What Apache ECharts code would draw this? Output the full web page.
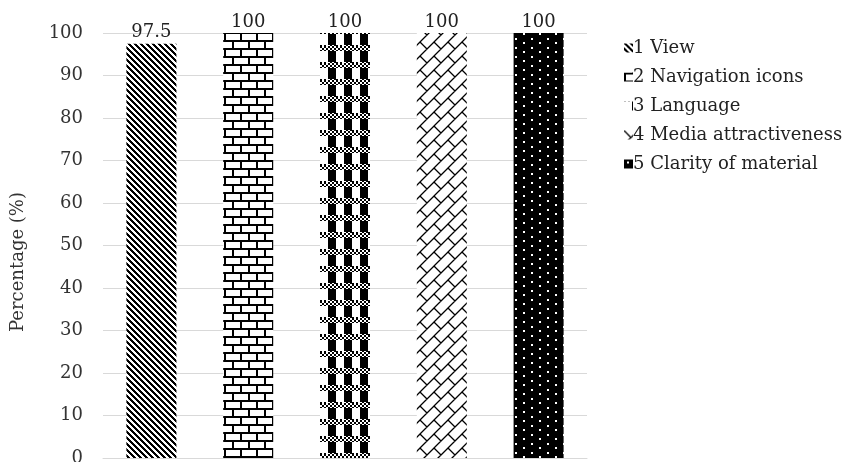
<!DOCTYPE html>
<html>
<head>
<meta charset="utf-8">
<script src="https://cdn.jsdelivr.net/npm/echarts@6/dist/echarts.min.js"></script>
<style>
  html, body { margin: 0; padding: 0; background: #fff; }
  #chart { width: 851px; height: 462px; }
</style>
</head>
<body>
<div id="chart"></div>
<script>
// Survey aspects and the share of positive responses for each
const categories = ['1 View', '2 Navigation icons', '3 Language', '4 Media attractiveness', '5 Clarity of material'];
const values = [97.5, 100, 100, 100, 100];
const yTicks = { min: 0, max: 100, interval: 10 };
const yAxisName = 'Percentage (%)';

const FONT = '"DejaVu Serif", "Liberation Serif", serif';

// --- monochrome fill patterns drawn on small tiles ---
function tile(w, h, draw, bg, fg) {
  const c = document.createElement('canvas');
  c.width = w; c.height = h;
  const g = c.getContext('2d');
  g.fillStyle = bg || '#fff';
  g.fillRect(0, 0, w, h);
  g.fillStyle = fg || '#000';
  g.strokeStyle = fg || '#000';
  draw(g, w, h);
  return { image: c, repeat: 'repeat' };
}

// wide downward diagonal stripes
const diagStripes = tile(6, 6, (g) => {
  for (let y = 0; y < 6; y++)
    for (let x = 0; x < 6; x++)
      if (((x - y) % 6 + 6) % 6 < 3) g.fillRect(x, y, 1, 1);
});

// horizontal brick
const brick = tile(16, 16, (g) => {
  g.fillRect(0, 0, 16, 2);
  g.fillRect(0, 8, 16, 2);
  g.fillRect(0, 0, 2, 8);
  g.fillRect(8, 8, 2, 8);
});

// large blocks separated by bands of fine checkers
const checkerBands = tile(16, 17, (g) => {
  g.fillRect(8, 0, 8, 12);
  for (let y = 12; y < 17; y++)
    for (let x = 0; x < 16; x++)
      if (((x >> 1) + ((y - 12) >> 1)) % 2 === 0) g.fillRect(x, y, 1, 1);
  for (let x = 0; x < 16; x += 2) {
    g.fillStyle = (x < 8) ? '#000' : '#fff';
    if ((x >> 1) % 2 === 0) g.fillRect(x, 11, 2, 1);
  }
});

// diagonal brick
const diagBrick = tile(14, 14, (g) => {
  g.lineWidth = 1.3;
  g.beginPath();
  g.moveTo(-1, 15); g.lineTo(15, -1);
  g.moveTo(-15, 15); g.lineTo(1, -1);
  g.moveTo(13, 15); g.lineTo(29, -1);
  g.moveTo(0, 0); g.lineTo(7, 7);
  g.moveTo(14, 0); g.lineTo(21, 7);
  g.moveTo(0, 14); g.lineTo(7, 21);
  g.stroke();
});

// black ground with small white dots
const dotted = tile(16, 9, (g) => {
  g.fillRect(3, 2, 2, 2);
  g.fillRect(11, 6, 2, 2);
}, '#000', '#fff');

const fills = [diagStripes, brick, checkerBands, diagBrick, dotted];

const series = categories.map((name, i) => ({
  name: name,
  type: 'bar',
  stack: 'all',
  barWidth: 50,
  data: categories.map((_, j) => (j === i ? values[i] : '-')),
  itemStyle: { color: fills[i] },
  label: {
    show: true,
    position: 'top',
    distance: 2,
    color: '#222',
    fontFamily: FONT,
    fontSize: 18
  }
}));

const chart = echarts.init(document.getElementById('chart'), null, { renderer: 'canvas' });
chart.setOption({
  animation: false,
  backgroundColor: '#fff',
  grid: { left: 103, right: 264, top: 33, bottom: 4, containLabel: false, outerBoundsMode: 'none' },
  legend: {
    orient: 'vertical',
    left: 619,
    top: 33,
    itemWidth: 9,
    itemHeight: 9,
    itemGap: 9,
    icon: 'rect',
    textStyle: { fontFamily: FONT, fontSize: 18, color: '#222', padding: [0, 0, 0, -5], lineHeight: 20 },
    data: categories
  },
  graphic: [{
    type: 'text',
    x: 18,
    y: 262,
    rotation: Math.PI / 2,
    style: {
      text: yAxisName,
      font: '18px ' + FONT,
      fill: '#333',
      align: 'center',
      verticalAlign: 'middle'
    }
  }],
  xAxis: {
    type: 'category',
    data: categories,
    axisLine: { show: true, lineStyle: { color: '#d9d9d9', width: 1 } },
    axisTick: { show: false },
    axisLabel: { show: false }
  },
  yAxis: {
    type: 'value',
    min: yTicks.min,
    max: yTicks.max,
    interval: yTicks.interval,
    axisLine: { show: false },
    axisTick: { show: false },
    axisLabel: { fontFamily: FONT, fontSize: 18, color: '#333', margin: 20 },
    splitLine: { lineStyle: { color: '#d9d9d9', width: 1 } }
  },
  series: series
});
</script>
</body>
</html>
